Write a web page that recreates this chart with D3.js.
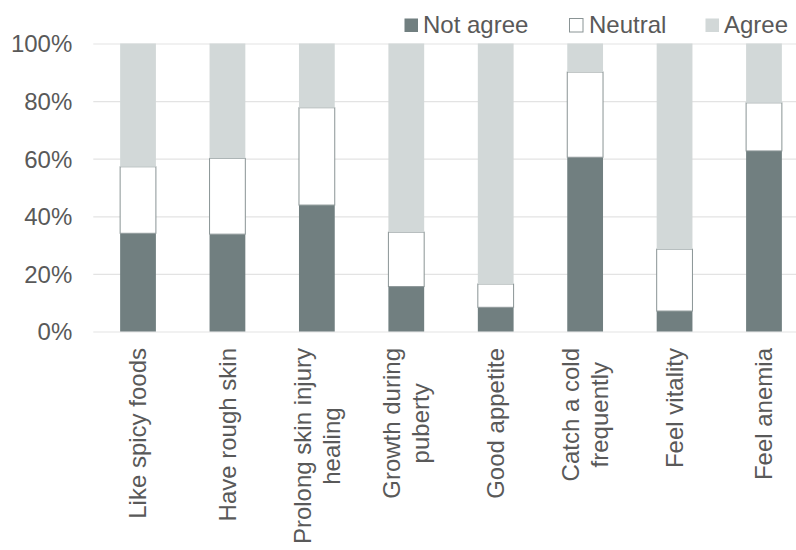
<!DOCTYPE html>
<html>
<head>
<meta charset="utf-8">
<script src="https://cdn.jsdelivr.net/npm/d3@7"></script>
<style>
  html, body { margin: 0; padding: 0; background: #fff; }
  svg { display: block; font-family: "Liberation Sans", Arial, sans-serif; }
</style>
</head>
<body>
<svg id="chart" width="796" height="550"></svg>
<script>
const categories = ["Like spicy foods", "Have rough skin", "Prolong skin injury\nhealing", "Growth during\npuberty", "Good appetite", "Catch a cold\nfrequently", "Feel vitality", "Feel anemia"];
const notAgree = [34.1, 33.8, 43.9, 15.6, 8.4, 60.5, 7.1, 62.7];
const neutral  = [23.1, 26.3, 33.8, 18.9, 8.1, 29.6, 21.5, 16.7];
const agree    = [42.8, 39.9, 22.3, 65.5, 83.5, 9.9, 71.4, 20.6];
const seriesNames = ["Not agree", "Neutral", "Agree"];
const yTicks = [0, 20, 40, 60, 80, 100];

const colors = { "Not agree": "#717f80", "Neutral": "#ffffff", "Agree": "#d2d8d8" };
const textColor = "#595959";

const svg = d3.select("#chart");
const plotLeft = 93.3, plotRight = 808.7, yTop = 43.5, yBottom = 331.5;

const table = categories.map((c, i) => ({ cat: c, "Not agree": notAgree[i], "Neutral": neutral[i], "Agree": agree[i] }));

const x = d3.scaleBand().domain(categories).range([plotLeft, plotRight]).paddingInner(0.6).paddingOuter(0.3);
const y = d3.scaleLinear().domain([0, 100]).range([yBottom, yTop]);

// grid + y labels
const yAxis = d3.axisLeft(y).tickValues(yTicks).tickFormat(d => d + "%")
  .tickSize(-(plotRight - plotLeft)).tickPadding(21);
const gy = svg.append("g").attr("transform", `translate(${plotLeft},0)`).call(yAxis);
gy.select(".domain").remove();
gy.selectAll(".tick line").attr("stroke", "#e3e3e3").attr("stroke-width", 1.2);
gy.selectAll(".tick text").attr("fill", textColor).attr("font-size", 24).attr("dy", "0.35em");

// stacked bars
const stack = d3.stack().keys(seriesNames)(table);
const layers = svg.append("g").selectAll("g").data(stack).join("g")
  .attr("fill", d => colors[d.key]);
layers.each(function(layer) {
  d3.select(this).selectAll("rect").data(layer).join("rect")
    .attr("x", d => x(d.data.cat))
    .attr("width", x.bandwidth())
    .attr("y", d => y(d[1]))
    .attr("height", d => y(d[0]) - y(d[1]))
    .attr("stroke", layer.key === "Neutral" ? "#8a9495" : "none")
    .attr("stroke-width", layer.key === "Neutral" ? 1 : 0);
});

// category labels (rotated)
const labelTop = 348;
const lineH = 28.8;
const lg = svg.append("g").attr("fill", textColor).attr("font-size", 24);
categories.forEach(c => {
  const lines = c.split("\n");
  const cx = x(c) + x.bandwidth() / 2;
  const g = lg.append("g").attr("transform", `translate(${cx},${labelTop}) rotate(-90)`);
  const texts = lines.map(l => g.append("text").text(l).attr("text-anchor", "middle"));
  const maxW = d3.max(texts, t => t.node().getComputedTextLength());
  const n = lines.length;
  texts.forEach((t, i) => {
    t.attr("x", -maxW / 2)
     .attr("y", (i - (n - 1) / 2) * lineH)
     .attr("dy", "0.35em");
  });
});

// legend
const legendItems = [
  { name: "Not agree", sx: 404, tx: 423 },
  { name: "Neutral", sx: 569, tx: 589 },
  { name: "Agree", sx: 705, tx: 724 }
];
const leg = svg.append("g");
legendItems.forEach(it => {
  leg.append("rect").attr("x", it.sx + 0.5).attr("y", 18.5).attr("width", 13.5).attr("height", 13.5)
    .attr("fill", colors[it.name])
    .attr("stroke", it.name === "Neutral" ? "#8a9495" : "none").attr("stroke-width", 1);
  leg.append("text").attr("x", it.tx).attr("y", 32.5).attr("fill", textColor)
    .attr("font-size", 24).text(it.name);
});
</script>
</body>
</html>
